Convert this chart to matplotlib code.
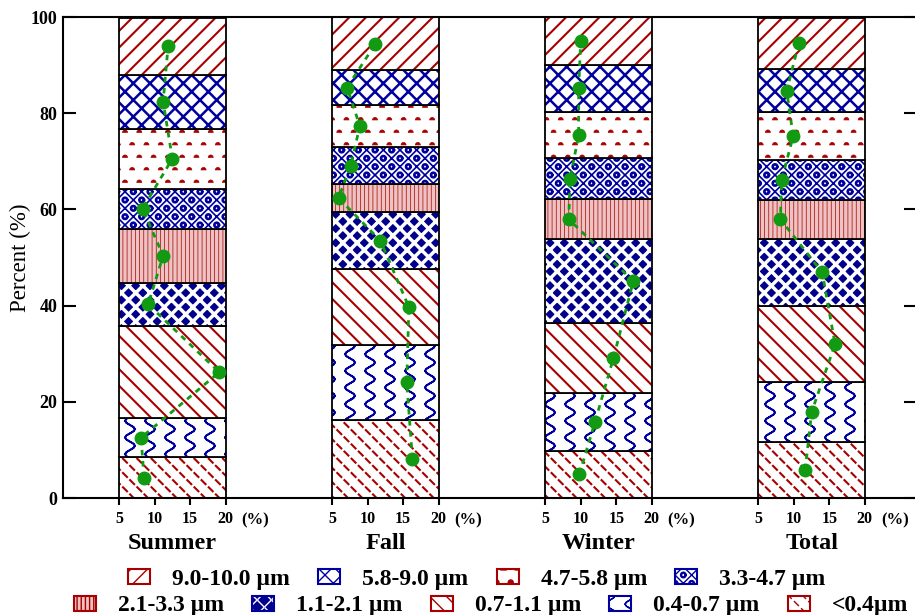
import warnings

import matplotlib
matplotlib.use("Agg")
import matplotlib.colors as mcolors
import matplotlib.hatch as mhatch
import matplotlib.pyplot as plt
import numpy as np
from matplotlib.patches import Rectangle
from matplotlib.path import Path
from matplotlib.transforms import blended_transform_factory

# custom hatch letters (~ : ^ c w) are "invalid" for the validator, but still work in 3.10
warnings.filterwarnings("ignore", category=matplotlib.MatplotlibDeprecationWarning)

seasons = ["Summer", "Fall", "Winter", "Total"]
# size bins, bottom of the stack first
bins = ["<0.4µm", "0.4-0.7 µm", "0.7-1.1 µm", "1.1-2.1 µm", "2.1-3.3 µm",
        "3.3-4.7 µm", "4.7-5.8 µm", "5.8-9.0 µm", "9.0-10.0 µm"]
summer = [8.5, 8.1, 19.1, 9.1, 11.2, 8.3, 12.5, 11.2, 11.9]
fall = [16.3, 15.5, 15.8, 11.8, 5.9, 7.6, 8.9, 7.1, 11.1]
winter = [9.8, 12.0, 14.6, 17.4, 8.3, 8.5, 9.7, 9.7, 10.0]
total = [11.6, 12.5, 15.8, 14.0, 8.1, 8.3, 9.9, 9.0, 10.7]
pct_ticks = [5, 10, 15, 20]
y_ticks = [0, 20, 40, 60, 80, 100]

RED, BLUE, NAVY, PINK, GREEN = "#A80000", "#0000A0", "#00008C", "#EDC2C2", "#129A12"
# (face, hatch colour, hatch, hatch width) for each bin
styles = [
    ("white", RED, ":", 1.5),
    ("white", BLUE, "~", 1.3),
    ("white", RED, "\\\\", 1.5),
    (NAVY, "white", "w", 2.5),
    (PINK, RED, "||||", 0.5),
    ("white", BLUE, "xxc", 1.2),
    ("white", RED, "^", 0.5),
    ("white", BLUE, "xx", 1.8),
    ("white", RED, "//", 1.5),
]
legend_rows = [[8, 7, 6, 5], [4, 3, 2, 1, 0]]


# ---- extra hatch patterns (Origin style fills) ----
M, L, C = Path.MOVETO, Path.LINETO, Path.CLOSEPOLY


class Motif(mhatch.HatchPatternBase):
    """small shape repeated on a grid of the hatch cell, wrapped so it tiles"""
    char = "?"
    nx, ny, x0, y0, stagger = 6, 6, 0.5, 0.5, False
    verts, kinds = np.zeros((0, 2)), []

    def __init__(self, hatch, density):
        self.num_vertices = 0
        if self.char in hatch:
            self.centres = []
            for r in range(self.ny):
                for c in range(self.nx):
                    x = (c + self.x0 + 0.5 * (r % 2) * self.stagger) / self.nx
                    y = (r + self.y0) / self.ny
                    self.centres += [(x + dx, y + dy) for dx in (-1, 0, 1) for dy in (-1, 0, 1)]
            self.num_vertices = len(self.centres) * len(self.verts)

    def set_vertices_and_codes(self, vertices, codes):
        vertices[:] = np.concatenate([self.verts + np.array(c) for c in self.centres])
        codes[:] = np.tile(self.kinds, len(self.centres))


def dash(cx, cy, dx, dy):
    return [(cx - dx, cy - dy), (cx + dx, cy + dy)]


class Dashes(Motif):
    char, nx, ny, x0, stagger = ":", 7, 14, 0.25, True
    verts, kinds = np.array(dash(0, 0, 0.02, -0.02)), [M, L]


t = np.linspace(-0.5, 0.5, 49)
wave = np.column_stack([0.05 * np.sin(2 * np.pi * 6 * (t + 0.5)), t])


class Waves(Motif):
    char, nx, ny = "~", 5, 1
    verts = np.vstack([wave, wave[-2::-1]])
    kinds = [M] + [L] * (len(verts) - 1)


a = np.linspace(0, np.pi, 13)


class Bumps(Motif):
    char, nx, ny, x0, stagger = "^", 7, 8, 0.25, True
    verts = np.vstack([np.column_stack([0.025 * np.cos(a), 0.025 * np.sin(a) - 0.012]), [[0, 0]]])
    kinds = [M] + [L] * 12 + [C]


b = np.linspace(0, 2 * np.pi, 17)


class Rings(Motif):
    char, nx, ny, x0, y0, stagger = "c", 6, 12, 0.5, 0.0, True
    verts = np.vstack([np.column_stack([0.028 * np.cos(b), 0.028 * np.sin(b)]),
                       np.column_stack([0.018 * np.cos(b), -0.018 * np.sin(b)])])
    kinds = ([M] + [L] * 16) * 2


q, d = 1 / 28, 0.028


class Weave(Motif):
    char, nx, ny = "w", 7, 7
    verts = np.array(dash(-q, -q, d, d) + dash(q, -q, d, -d) + dash(-q, q, d, -d) + dash(q, q, d, d))
    kinds = [M, L] * 4


mhatch._hatch_types += [Dashes, Waves, Bumps, Rings, Weave]

# ---- figure ----
plt.rcParams["font.family"] = ["Liberation Serif", "DejaVu Serif"]
plt.rcParams["font.weight"] = "bold"

fig = plt.figure(figsize=(9.15, 6.15), dpi=100)
ax = fig.add_axes([0.0689, 0.1902, 0.9322, 0.7821])

values = np.array([summer, fall, winter, total])
bottoms = np.cumsum(values, axis=1) - values
offsets = [30 * i for i in range(len(seasons))]
centres = [o + (pct_ticks[0] + pct_ticks[-1]) / 2 for o in offsets]
bar_w = pct_ticks[-1] - pct_ticks[0]

for j, (face, hc, hatch, hlw) in enumerate(styles):
    bars = ax.bar(centres, values[:, j], width=bar_w, bottom=bottoms[:, j],
                  color=face, edgecolor=hc, linewidth=0, hatch=hatch)
    for bar in bars:
        bar.set_hatch_linewidth(hlw)
    ax.bar(centres, values[:, j], width=bar_w, bottom=bottoms[:, j],
           fill=False, edgecolor="black", linewidth=1.3)

# share of each bin, drawn against the bar's own 5-20 % scale
for off, vals in zip(offsets, values):
    mids = np.cumsum(vals) - vals / 2
    ax.plot(off + vals, mids, color=GREEN, linestyle=(0, (2, 2)), linewidth=2,
            marker="o", markersize=9)

ax.set_xlim(-2.89, 117.2)
ax.set_ylim(0, 100)
ax.set_xticks([o + p for o in offsets for p in pct_ticks])
ax.set_xticklabels([str(p) for o in offsets for p in pct_ticks], fontsize=11.5)
ax.set_yticks(y_ticks)
ax.set_yticklabels([str(v) for v in y_ticks], fontsize=13)
ax.tick_params(axis="x", direction="out", length=5, width=1.5, pad=4)
ax.tick_params(axis="y", direction="in", length=9, width=1.5, pad=4, right=True)
for sp in ax.spines.values():
    sp.set_linewidth(1.5)
ax.set_ylabel("Percent (%)", fontsize=16.5, labelpad=0)

tr = blended_transform_factory(ax.transData, ax.transAxes)
for off, c, name in zip(offsets, centres, seasons):
    ax.text(off + pct_ticks[-1] + 4.2, -0.054, "(%)", transform=tr, ha="center",
            va="baseline", fontsize=12)
    ax.text(c, -0.106, name, transform=tr, ha="center", va="baseline", fontsize=17.5)


def swatch(j):
    face, hc, hatch, hlw = styles[j]
    p = Rectangle((0, 0), 1, 1, facecolor=face, edgecolor=BLUE if hc == "white" else hc,
                  linewidth=1.5, hatch=hatch)
    p._hatch_color = mcolors.to_rgba(hc)
    p.set_hatch_linewidth(hlw)
    return p


leg_kw = dict(loc="center", frameon=False, fontsize=17, handlelength=0.93, handleheight=0.6,
              handletextpad=0.93, columnspacing=1.2, borderpad=0, borderaxespad=0)
for row, (cx, cy) in zip(legend_rows, [(477, 579), (491, 606)]):
    fig.legend([swatch(j) for j in row], [bins[j] for j in row], ncol=len(row),
               bbox_to_anchor=(cx / 915, 1 - cy / 615), **leg_kw)

fig.savefig("out.png", dpi=100)
